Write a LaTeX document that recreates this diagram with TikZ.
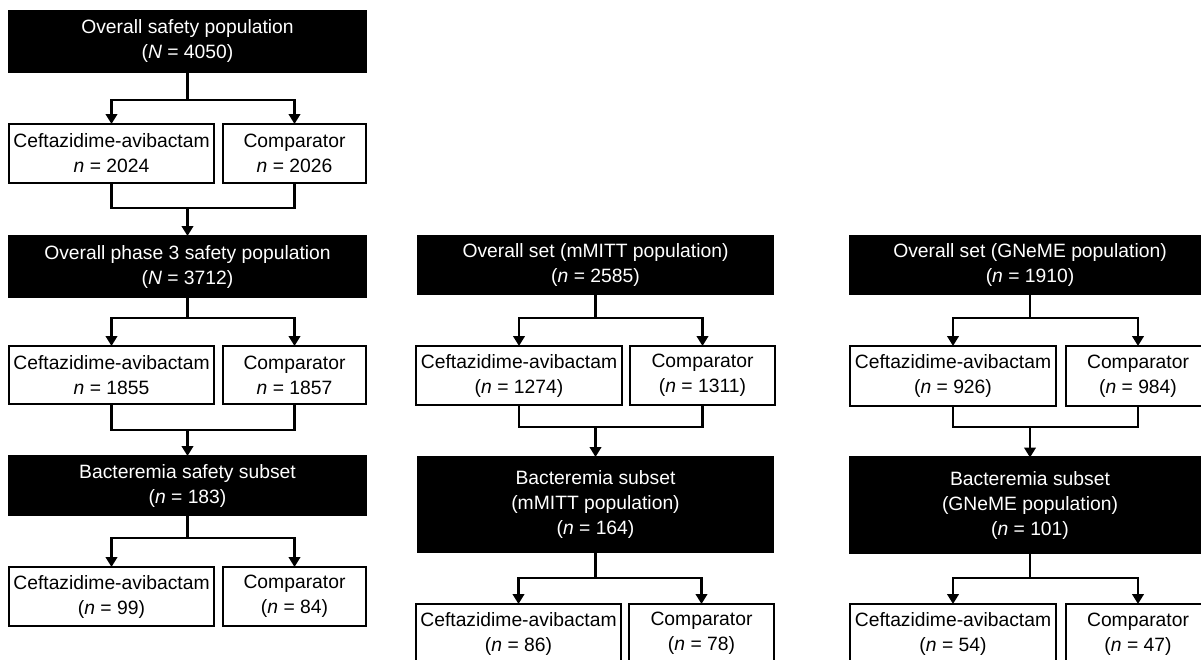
\documentclass[tikz,border=0pt]{standalone}
\usepackage{fontspec}
\setmainfont{Liberation Sans}
\usetikzlibrary{arrows.meta}
\tikzset{
  base/.style={inner sep=0pt, outer sep=0pt, align=center, line width=2.3pt,
    font=\fontsize{19.3}{25}\selectfont},
  blk/.style={base, draw=black, fill=black, text=white},
  wht/.style={base, draw=black, fill=white},
  conn/.style={line width=2.4pt},
  arr/.style={conn, -{Triangle[width=11.5pt,length=10pt]}}
}
\newcommand\mysplit[4]{%
  \draw[arr] (#1.south) |- (#2.north |- 0,#4) -- (#2.north);
  \draw[arr] (#1.south) |- (#3.north |- 0,#4) -- (#3.north);}
\newcommand\mymerge[4]{%
  \draw[conn] (#1.south) -- (#1.south |- 0,#4) -- (#2.south |- 0,#4) -- (#2.south);
  \draw[arr] (#3.north |- 0,#4) -- (#3.north);}
\begin{document}
\begin{tikzpicture}[x=1pt,y=-1pt]
\useasboundingbox (0,0) rectangle (1201,659);
\clip (0,0) rectangle (1201,659);
% left column
\node[blk, minimum width=357pt, minimum height=61pt] (A1) at (187.5,41.5) {Overall safety population\\(\textit{N} = 4050)};
\node[wht, minimum width=205pt, minimum height=59pt] (A2) at (111.5,153.5) {Ceftazidime-avibactam\\\textit{n} = 2024};
\node[wht, minimum width=143pt, minimum height=59pt] (A3) at (294.5,153.5) {Comparator\\\textit{n} = 2026};
\node[blk, minimum width=357pt, minimum height=61pt] (A4) at (187.5,266.5) {Overall phase 3 safety population\\(\textit{N} = 3712)};
\node[wht, minimum width=205pt, minimum height=58pt] (A5) at (111.5,375) {Ceftazidime-avibactam\\\textit{n} = 1855};
\node[wht, minimum width=143pt, minimum height=58pt] (A6) at (294.5,375) {Comparator\\\textit{n} = 1857};
\node[blk, minimum width=357pt, minimum height=59pt] (A7) at (187.5,485.5) {Bacteremia safety subset\\(\textit{n} = 183)};
\node[wht, minimum width=205pt, minimum height=59pt] (A8) at (111.5,596.5) {Ceftazidime-avibactam\\(\textit{n} = 99)};
\node[wht, minimum width=143pt, minimum height=59pt] (A9) at (294.5,596.5) {Comparator\\(\textit{n} = 84)};
% middle column
\node[blk, minimum width=355pt, minimum height=58pt] (B1) at (595.5,265) {Overall set (mMITT population)\\(\textit{n} = 2585)};
\node[wht, minimum width=206pt, minimum height=59pt] (B2) at (519,375.5) {Ceftazidime-avibactam\\(\textit{n} = 1274)};
\node[wht, minimum width=145pt, minimum height=59pt] (B3) at (702.5,375.5) {Comparator\\(\textit{n} = 1311)};
\node[blk, minimum width=355pt, minimum height=95pt] (B4) at (595.5,504.5) {Bacteremia subset\\(mMITT population)\\(\textit{n} = 164)};
\node[wht, minimum width=205pt, minimum height=59pt] (B5) at (518.5,633.5) {Ceftazidime-avibactam\\(\textit{n} = 86)};
\node[wht, minimum width=145pt, minimum height=59pt] (B6) at (701.5,633.5) {Comparator\\(\textit{n} = 78)};
% right column
\node[blk, minimum width=360pt, minimum height=58pt] (C1) at (1030,265) {Overall set (GNeME population)\\(\textit{n} = 1910)};
\node[wht, minimum width=206pt, minimum height=60pt] (C2) at (953,376) {Ceftazidime-avibactam\\(\textit{n} = 926)};
\node[wht, minimum width=144pt, minimum height=60pt] (C3) at (1138,376) {Comparator\\(\textit{n} = 984)};
\node[blk, minimum width=360pt, minimum height=95pt] (C4) at (1030,505) {Bacteremia subset\\(GNeME population)\\(\textit{n} = 101)};
\node[wht, minimum width=206pt, minimum height=60pt] (C5) at (953,634) {Ceftazidime-avibactam\\(\textit{n} = 54)};
\node[wht, minimum width=144pt, minimum height=60pt] (C6) at (1138,634) {Comparator\\(\textit{n} = 47)};
% connectors
\mysplit{A1}{A2}{A3}{100}
\mymerge{A2}{A3}{A4}{208}
\mysplit{A4}{A5}{A6}{318}
\mymerge{A5}{A6}{A7}{430}
\mysplit{A7}{A8}{A9}{538}
\mysplit{B1}{B2}{B3}{318}
\mymerge{B2}{B3}{B4}{427}
\mysplit{B4}{B5}{B6}{578}
\mysplit{C1}{C2}{C3}{318}
\mymerge{C2}{C3}{C4}{427}
\mysplit{C4}{C5}{C6}{578}
\end{tikzpicture}
\end{document}
